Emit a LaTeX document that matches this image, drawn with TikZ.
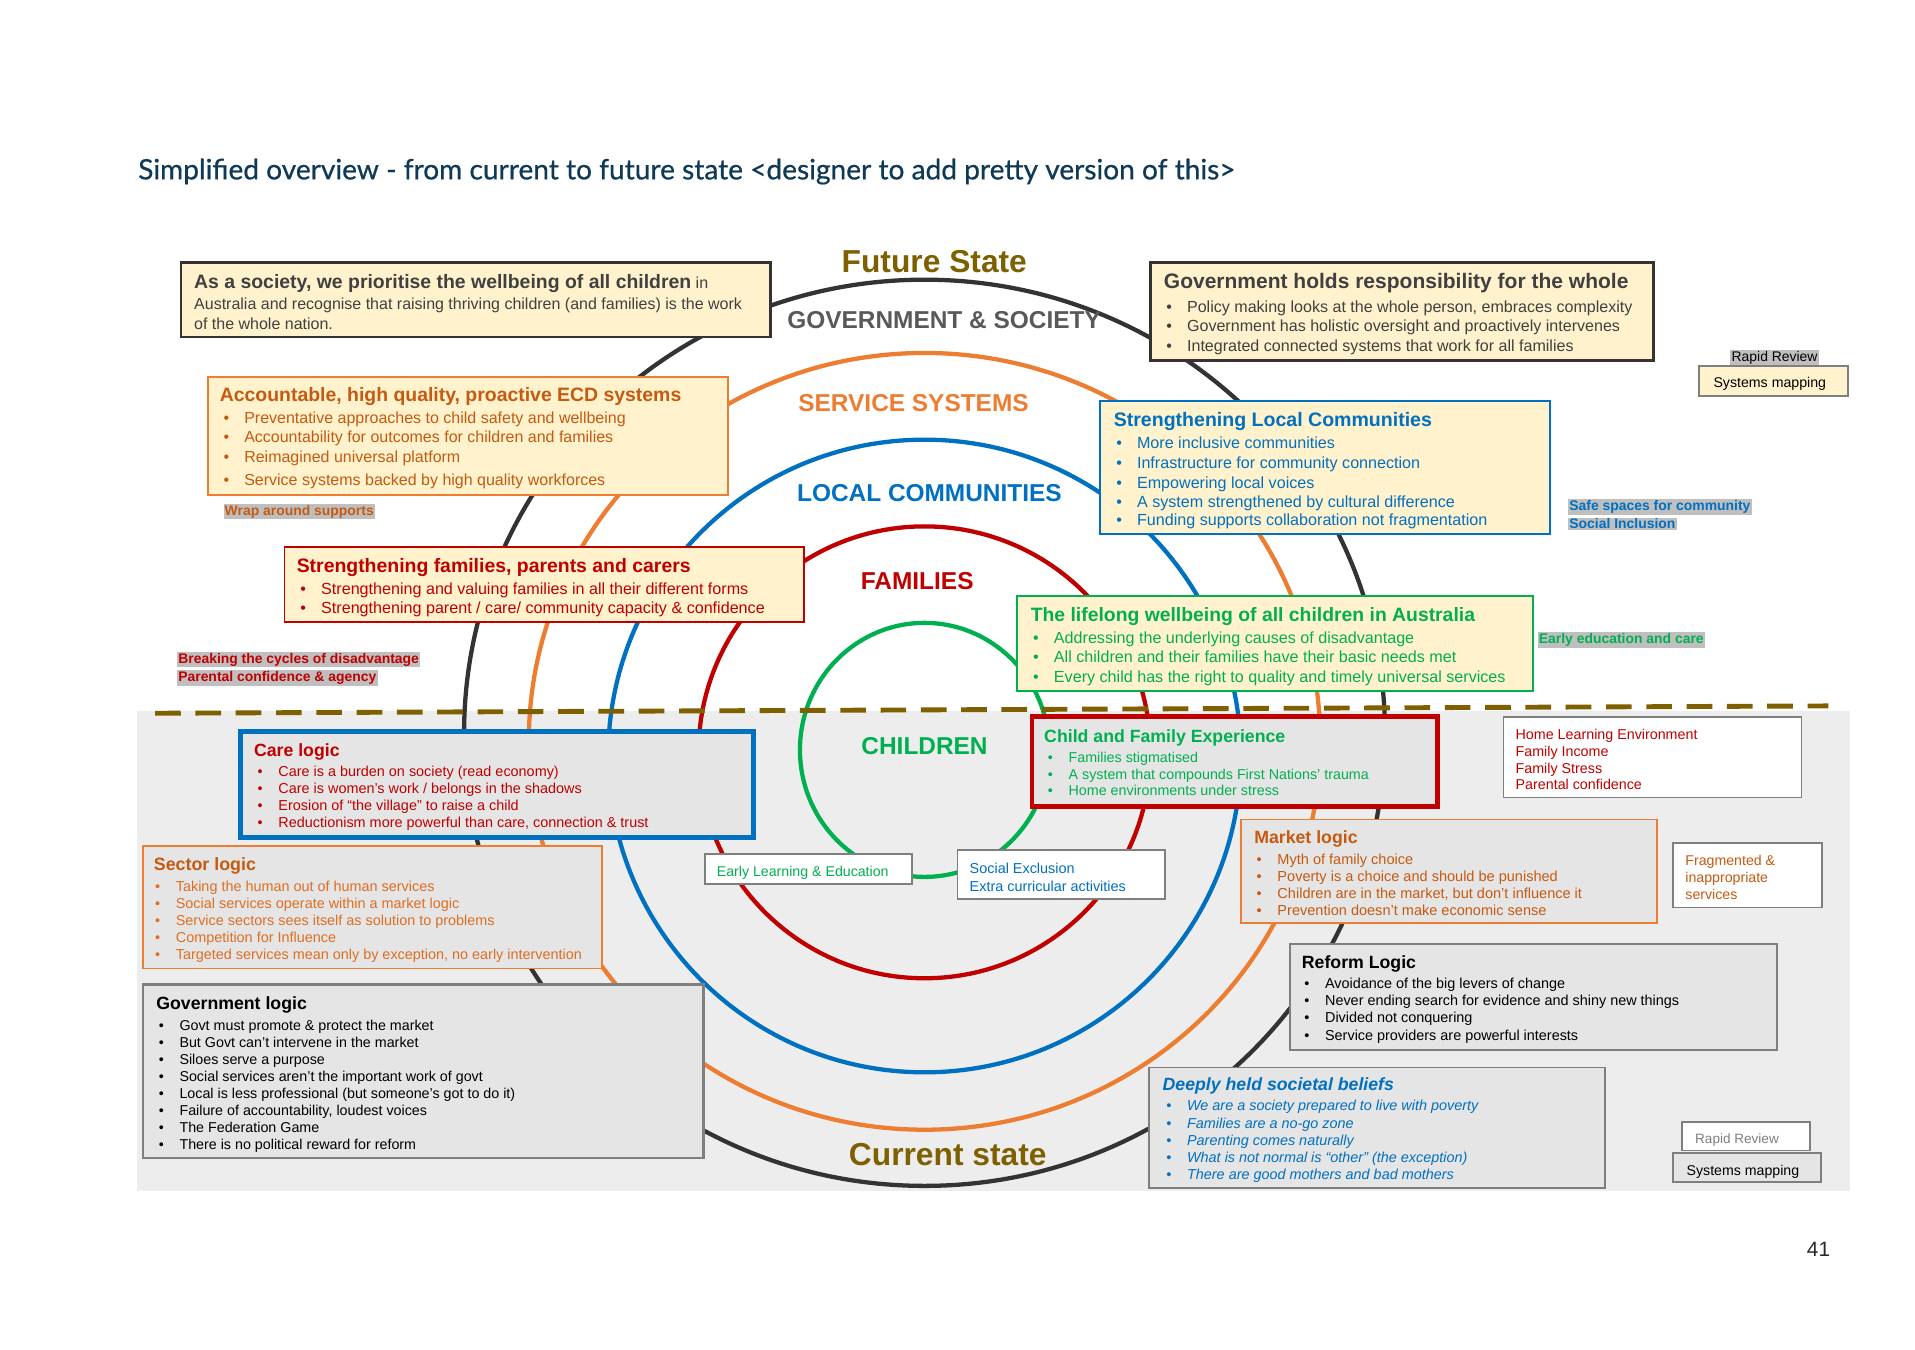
\documentclass[tikz,border=0pt]{standalone}
\usepackage{fontspec}
\setmainfont{Liberation Sans}
\newfontfamily\titlefont[FakeBold=0.6]{Lato}
\usetikzlibrary{calc}
\definecolor{cblack}{HTML}{333333}
\definecolor{cdark}{HTML}{404040}
\definecolor{cgovs}{HTML}{595959}
\definecolor{corange}{HTML}{ED7D31}
\definecolor{cdorange}{HTML}{C55A11}
\definecolor{csorange}{HTML}{DD6E22}
\definecolor{cblue}{HTML}{0070C0}
\definecolor{cred}{HTML}{C00000}
\definecolor{cgreen}{HTML}{00B050}
\definecolor{cgold}{HTML}{7F6000}
\definecolor{cyel}{HTML}{FFF2CC}
\definecolor{cbg}{HTML}{EDEDED}
\definecolor{cgbox}{HTML}{E5E5E5}
\definecolor{cgline}{HTML}{7F7F7F}
\definecolor{chl}{HTML}{BFBFBF}
\definecolor{ctitle}{HTML}{0F3A57}
\newcommand\fsz[1]{\fontsize{#1}{#1}\selectfont}
\newcommand\bul[1]{\makebox[17pt][l]{\textbullet}#1}
\tikzset{
  ln/.style={anchor=west, inner sep=0pt, outer sep=0pt, text height=0.62em, text depth=0pt, yshift=-2.5pt},
  bx/.style={rectangle, anchor=north west, inner sep=0pt, outer sep=0pt},
  ybox/.style={bx, fill=cyel, line width=1.5pt},
  gbox/.style={bx, fill=cgbox, line width=1.5pt},
  wbox/.style={bx, fill=white, draw=cgline, line width=1.5pt},
  hl/.style={anchor=west, inner sep=1pt, outer sep=0pt, fill=chl, font=\bfseries\fsz{11.4}},
  ring/.style={line width=3.5pt},
  big/.style={anchor=center, inner sep=0pt, font=\bfseries\fsz{20}}
}
\begin{document}
\begin{tikzpicture}[x=1pt, y=-1pt]
\useasboundingbox (0,0) rectangle (1568,1105);
\fill[white] (0,0) rectangle (1568,1105);

% title and page number
\node[anchor=west, inner sep=0pt, text=ctitle, font=\titlefont\fsz{23}, yshift=-1.5pt] (title) at (113,139)
  {Simplified overview - from current to future state <designer to add pretty version of this>};
\node[anchor=center, inner sep=0pt, text=black!85, font=\fsz{17}] (page) at (1489,1023) {41};

% lower grey band
\fill[cbg] (112,582) rectangle (1515,975);

% rings
\draw[ring, cblack] (757,600) ellipse [x radius=377pt, y radius=371pt];
\draw[ring, corange] (757,607) ellipse [x radius=324pt, y radius=318pt];
\draw[ring, cblue] (757,619) ellipse [x radius=259pt, y radius=259pt];
\draw[ring, cred] (757,616) ellipse [x radius=185pt, y radius=185pt];
\draw[ring, cgreen] (757,614) ellipse [x radius=102pt, y radius=104pt];

% dashed divider
\coordinate (dl) at (127,584);
\coordinate (dr) at (1497,578);
\draw[cgold, line width=4pt, dash pattern=on 21pt off 12pt] (dl) -- (dr);

% ring labels
\node[big, font=\bfseries\fsz{26}, text=cgold] (future) at (765,214) {Future State};
\node[big, text=cgovs] (lgov) at (773,262) {GOVERNMENT \& SOCIETY};
\node[big, text=corange] (lserv) at (748,330) {SERVICE SYSTEMS};
\node[big, text=cblue] (lloc) at (761,404) {LOCAL COMMUNITIES};
\node[big, text=cred] (lfam) at (751,476) {FAMILIES};
\node[big, text=cgreen] (lchild) at (757,611) {CHILDREN};
\node[big, font=\bfseries\fsz{26}, text=cgold] (current) at (776,945) {Current state};

% ---------- future state boxes ----------
\node[ybox, draw=cblack, line width=2pt, minimum width=483pt, minimum height=61pt] (soc) at (148,215) {};
\node[ln, text=cdark, font=\fsz{15.9}] (soc-1) at (159,231)
  {{\bfseries As a society, we prioritise the wellbeing of all children}{\fsz{13.1} in}};
\node[ln, text=cdark, font=\fsz{13.1}] (soc-2) at (159,248)
  {Australia and recognise that raising thriving children (and families) is the work};
\node[ln, text=cdark, font=\fsz{13.1}] (soc-3) at (159,264) {of the whole nation.};

\node[ybox, draw=corange, minimum width=426pt, minimum height=96pt] (ecd) at (170,309) {};
\node[ln, text=cdorange, font=\bfseries\fsz{15.9}] (ecd-t) at (180,323) {Accountable, high quality, proactive ECD systems};
\foreach \t/\yy [count=\i] in {{Preventative approaches to child safety and wellbeing}/341,
  {Accountability for outcomes for children and families}/357,
  {Reimagined universal platform}/373,
  {Service systems backed by high quality workforces}/392}
  \node[ln, text=cdorange, font=\fsz{13.1}] (ecd-\i) at (183,\yy) {\bul{\t}};
\node[hl, text=cdorange] (wrap) at (183,419) {Wrap around supports};

\node[ybox, draw=cred, minimum width=425pt, minimum height=61pt] (fam) at (233,448) {};
\node[ln, text=cred, font=\bfseries\fsz{15.9}] (fam-t) at (243,463) {Strengthening families, parents and carers};
\foreach \t/\yy [count=\i] in {{Strengthening and valuing families in all their different forms}/481,
  {Strengthening parent / care/ community capacity \& confidence}/497}
  \node[ln, text=cred, font=\fsz{13.2}] (fam-\i) at (246,\yy) {\bul{\t}};
\node[hl, text=cred] (brk1) at (145,540) {Breaking the cycles of disadvantage};
\node[hl, text=cred] (brk2) at (145,555) {Parental confidence \& agency};

\node[ybox, draw=cblack, line width=2pt, minimum width=412pt, minimum height=80pt] (gov) at (942,215) {};
\node[ln, text=cdark, font=\bfseries\fsz{17.2}] (gov-t) at (953,231) {Government holds responsibility for the whole};
\foreach \t/\yy [count=\i] in {{Policy making looks at the whole person, embraces complexity}/250,
  {Government has holistic oversight and proactively intervenes}/266,
  {Integrated connected systems that work for all families}/282}
  \node[ln, text=cdark, font=\fsz{13.15}] (gov-\i) at (955,\yy) {\bul{\t}};

\node[anchor=center, inner sep=1pt, fill=chl, font=\fsz{11.4}, yshift=-1pt] (rr1) at (1453,292) {Rapid Review};
\node[ybox, draw=cgline, minimum width=122pt, minimum height=24pt] (sm1) at (1391,300) {};
\node[ln, font=\fsz{11.6}] (sm1-t) at (1403,312) {Systems mapping};

\node[ybox, draw=cblue, minimum width=368pt, minimum height=109pt] (loc) at (901,328) {};
\node[ln, text=cblue, font=\bfseries\fsz{16}] (loc-t) at (912,344) {Strengthening Local Communities};
\foreach \t/\yy [count=\i] in {{More inclusive communities}/362,
  {Infrastructure for community connection}/378,
  {Empowering local voices}/394,
  {A system strengthened by cultural difference}/410,
  {Funding supports collaboration not fragmentation}/425}
  \node[ln, text=cblue, font=\fsz{13.2}] (loc-\i) at (914,\yy) {\bul{\t}};
\node[hl, text=cblue] (safe1) at (1284,415) {Safe spaces for community};
\node[hl, text=cblue] (safe2) at (1284,429) {Social Inclusion};

\node[ybox, draw=cgreen, minimum width=422pt, minimum height=78pt] (life) at (833,488) {};
\node[ln, text=cgreen, font=\bfseries\fsz{15.85}] (life-t) at (844,503) {The lifelong wellbeing of all children in Australia};
\foreach \t/\yy [count=\i] in {{Addressing the underlying causes of disadvantage}/521,
  {All children and their families have their basic needs met}/537,
  {Every child has the right to quality and timely universal services}/553}
  \node[ln, text=cgreen, font=\fsz{13.2}] (life-\i) at (846,\yy) {\bul{\t}};
\node[hl, text=cgreen] (eec) at (1259,524) {Early education and care};

% ---------- current state boxes ----------
\node[gbox, draw=cblue, line width=4pt, minimum width=420pt, minimum height=87pt] (care) at (197,599) {};
\node[ln, text=cred, font=\bfseries\fsz{14.5}] (care-t) at (208,614) {Care logic};
\foreach \t/\yy [count=\i] in {{Care is a burden on society (read economy)}/630,
  {Care is women’s work / belongs in the shadows}/644,
  {Erosion of “the village” to raise a child}/658,
  {Reductionism more powerful than care, connection \& trust}/672}
  \node[ln, text=cred, font=\fsz{11.8}] (care-\i) at (211,\yy) {\bul{\t}};

\node[gbox, draw=corange, minimum width=376pt, minimum height=100pt] (sec) at (117,693) {};
\node[ln, text=cdorange, font=\bfseries\fsz{14.6}] (sec-t) at (126,707) {Sector logic};
\foreach \t/\yy [count=\i] in {{Taking the human out of human services}/724,
  {Social services operate within a market logic}/738,
  {Service sectors sees itself as solution to problems}/752,
  {Competition for Influence}/766,
  {Targeted services mean only by exception, no early intervention}/780}
  \node[ln, text=csorange, font=\fsz{11.8}] (sec-\i) at (127,\yy) {\bul{\t}};

\node[gbox, draw=cgline, line width=2pt, minimum width=459pt, minimum height=142pt] (glog) at (117,806) {};
\node[ln, text=black, font=\bfseries\fsz{14.5}] (glog-t) at (128,821) {Government logic};
\foreach \t/\yy [count=\i] in {{Govt must promote \& protect the market}/838,
  {But Govt can’t intervene in the market}/852,
  {Siloes serve a purpose}/866,
  {Social services aren’t the important work of govt}/880,
  {Local is less professional (but someone’s got to do it)}/894,
  {Failure of accountability, loudest voices}/908,
  {The Federation Game}/922,
  {There is no political reward for reform}/936}
  \node[ln, text=black, font=\fsz{11.7}] (glog-\i) at (130,\yy) {\bul{\t}};

\node[gbox, draw=cred, line width=4pt, minimum width=332pt, minimum height=73pt] (cfe) at (845,587) {};
\node[ln, text=cgreen, font=\bfseries\fsz{14.5}] (cfe-t) at (855,602) {Child and Family Experience};
\foreach \t/\yy [count=\i] in {{Families stigmatised}/619,
  {A system that compounds First Nations’ trauma}/633,
  {Home environments under stress}/646}
  \node[ln, text=cgreen, font=\fsz{11.7}] (cfe-\i) at (858,\yy) {\bul{\t}};

\node[wbox, minimum width=244pt, minimum height=66pt] (home) at (1231,587) {};
\foreach \t/\yy [count=\i] in {{Home Learning Environment}/600, {Family Income}/614,
  {Family Stress}/628, {Parental confidence}/641}
  \node[ln, text=cred, font=\fsz{11.7}] (home-\i) at (1241,\yy) {\t};

\node[gbox, draw=corange, minimum width=341pt, minimum height=85pt] (mkt) at (1016,671) {};
\node[ln, text=cdorange, font=\bfseries\fsz{14.5}] (mkt-t) at (1027,685) {Market logic};
\foreach \t/\yy [count=\i] in {{Myth of family choice}/702,
  {Poverty is a choice and should be punished}/716,
  {Children are in the market, but don’t influence it}/730,
  {Prevention doesn’t make economic sense}/744}
  \node[ln, text=cdorange, font=\fsz{11.9}] (mkt-\i) at (1029,\yy) {\bul{\t}};

\node[wbox, minimum width=122pt, minimum height=53pt] (frag) at (1370,690) {};
\foreach \t/\yy [count=\i] in {{Fragmented \&}/703, {inappropriate}/717, {services}/731}
  \node[ln, text=cdorange, font=\fsz{11.6}] (frag-\i) at (1380,\yy) {\t};

\node[wbox, minimum width=170pt, minimum height=25pt] (elearn) at (577,699) {};
\node[ln, text=cgreen, font=\fsz{11.6}] (elearn-t) at (587,712) {Early Learning \& Education};

\node[wbox, minimum width=170pt, minimum height=40pt] (sexc) at (784,696) {};
\node[ln, text=cblue, font=\fsz{11.8}] (sexc-1) at (794,710) {Social Exclusion};
\node[ln, text=cblue, font=\fsz{11.8}] (sexc-2) at (794,724) {Extra curricular activities};

\node[gbox, draw=cgline, minimum width=399pt, minimum height=87pt] (ref) at (1056,773) {};
\node[ln, text=black, font=\bfseries\fsz{14.5}] (ref-t) at (1066,787) {Reform Logic};
\foreach \t/\yy [count=\i] in {{Avoidance of the big levers of change}/804,
  {Never ending search for evidence and shiny new things}/818,
  {Divided not conquering}/832,
  {Service providers are powerful interests}/846}
  \node[ln, text=black, font=\fsz{11.8}] (ref-\i) at (1068,\yy) {\bul{\t}};

\node[gbox, draw=cgline, minimum width=373pt, minimum height=99pt] (deep) at (941,874) {};
\node[ln, text=cblue, font=\bfseries\itshape\fsz{14.5}] (deep-t) at (952,887) {Deeply held societal beliefs};
\foreach \t/\yy [count=\i] in {{We are a society prepared to live with poverty}/904,
  {Families are a no-go zone}/918,
  {Parenting comes naturally}/932,
  {What is not normal is “other” (the exception)}/946,
  {There are good mothers and bad mothers}/960}
  \node[ln, text=cblue, font=\itshape\fsz{11.8}] (deep-\i) at (955,\yy) {\bul{\t}};

\node[wbox, minimum width=105pt, minimum height=23pt] (rr2) at (1377,919) {};
\node[ln, text=cgline, font=\fsz{11.1}] (rr2-t) at (1388,931) {Rapid Review};
\node[gbox, draw=cgline, minimum width=121pt, minimum height=24pt] (sm2) at (1370,944) {};
\node[ln, text=black, font=\fsz{11.6}] (sm2-t) at (1381,957) {Systems mapping};
\end{tikzpicture}
\end{document}
